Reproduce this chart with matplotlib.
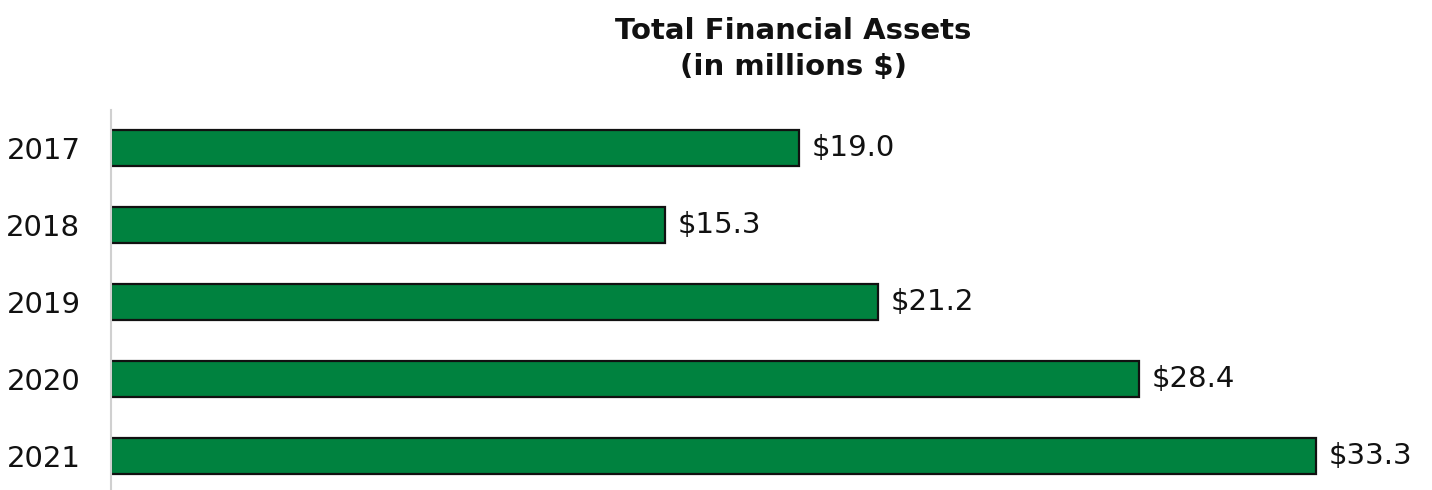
import matplotlib
matplotlib.use('Agg')
import matplotlib.pyplot as plt

years = ['2017', '2018', '2019', '2020', '2021']
assets = [19.0, 15.3, 21.2, 28.4, 33.3]
labels = ['$19.0', '$15.3', '$21.2', '$28.4', '$33.3']

fig = plt.figure(figsize=(14.32, 4.9), dpi=100)
ax = fig.add_axes([111 / 1432, 0, 1 - 111 / 1432, 380 / 490])

pos = list(range(len(years)))
ax.barh(pos, assets, height=0.47, color='#00823f', edgecolor='#111111', linewidth=1.6)

# value labels to the right of each bar
for p, v, t in zip(pos, assets, labels):
    ax.text(v + 0.35, p, t, va='center', ha='left', fontsize=21, color='#111111')

ax.set_yticks(pos)
ax.set_yticklabels(years, fontsize=21, color='#111111')
ax.tick_params(axis='y', length=0, pad=22)
ax.set_xticks([])
ax.set_xlim(0, 36.5)
ax.set_ylim(4.44, -0.49)

for side in ['top', 'right', 'bottom']:
    ax.spines[side].set_visible(False)
ax.spines['left'].set_color('#d0d0d0')
ax.spines['left'].set_linewidth(1.5)

fig.text(0.554, 1 - 49 / 490, 'Total Financial Assets\n(in millions $)', ha='center', va='center',
         fontsize=21, fontweight='bold', linespacing=1.4, color='#111111')

fig.savefig('out.png', dpi=100)
plt.close(fig)
